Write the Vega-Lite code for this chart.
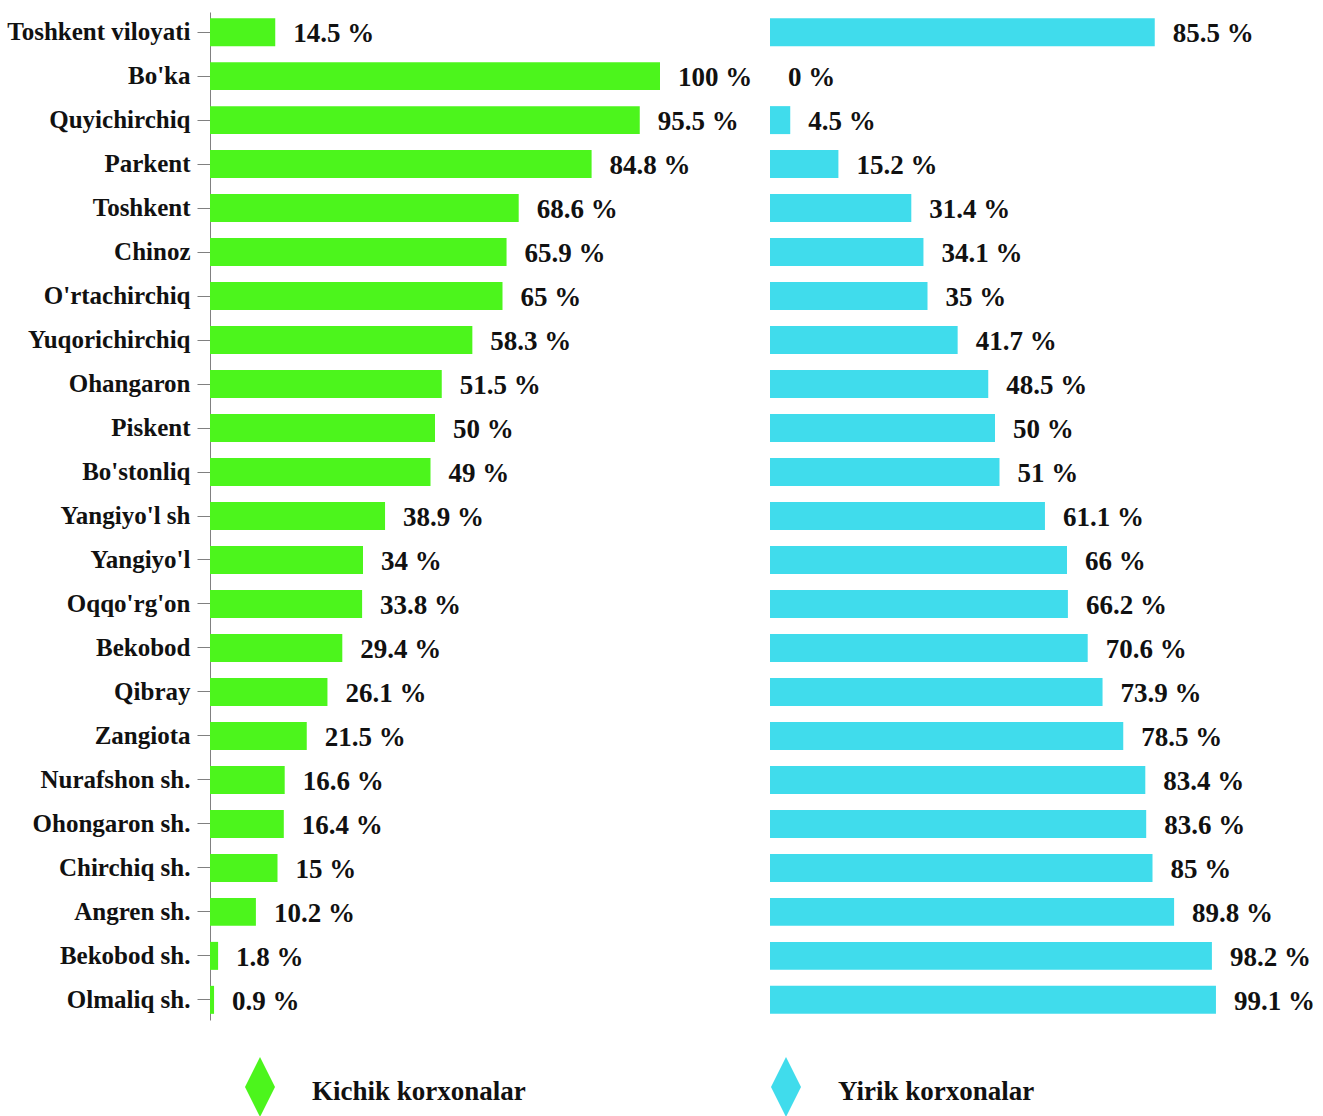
{
  "$schema": "https://vega.github.io/schema/vega-lite/v6.json",
  "padding": {"left": 6, "top": 12, "right": 0, "bottom": 0},
  "background": "white",
  "bounds": "flush",
  "spacing": 20,
  "config": {
    "view": {"stroke": null},
    "font": "Liberation Serif",
    "legend": {"labelFont": "Liberation Serif", "labelFontWeight": "bold"}
  },
  "data": {"values": [
    {"region": "Toshkent viloyati", "group": "Kichik korxonalar", "value": 14.5},
    {"region": "Bo'ka", "group": "Kichik korxonalar", "value": 100},
    {"region": "Quyichirchiq", "group": "Kichik korxonalar", "value": 95.5},
    {"region": "Parkent", "group": "Kichik korxonalar", "value": 84.8},
    {"region": "Toshkent", "group": "Kichik korxonalar", "value": 68.6},
    {"region": "Chinoz", "group": "Kichik korxonalar", "value": 65.9},
    {"region": "O'rtachirchiq", "group": "Kichik korxonalar", "value": 65},
    {"region": "Yuqorichirchiq", "group": "Kichik korxonalar", "value": 58.3},
    {"region": "Ohangaron", "group": "Kichik korxonalar", "value": 51.5},
    {"region": "Piskent", "group": "Kichik korxonalar", "value": 50},
    {"region": "Bo'stonliq", "group": "Kichik korxonalar", "value": 49},
    {"region": "Yangiyo'l sh", "group": "Kichik korxonalar", "value": 38.9},
    {"region": "Yangiyo'l", "group": "Kichik korxonalar", "value": 34},
    {"region": "Oqqo'rg'on", "group": "Kichik korxonalar", "value": 33.8},
    {"region": "Bekobod", "group": "Kichik korxonalar", "value": 29.4},
    {"region": "Qibray", "group": "Kichik korxonalar", "value": 26.1},
    {"region": "Zangiota", "group": "Kichik korxonalar", "value": 21.5},
    {"region": "Nurafshon sh.", "group": "Kichik korxonalar", "value": 16.6},
    {"region": "Ohongaron sh.", "group": "Kichik korxonalar", "value": 16.4},
    {"region": "Chirchiq sh.", "group": "Kichik korxonalar", "value": 15},
    {"region": "Angren sh.", "group": "Kichik korxonalar", "value": 10.2},
    {"region": "Bekobod sh.", "group": "Kichik korxonalar", "value": 1.8},
    {"region": "Olmaliq sh.", "group": "Kichik korxonalar", "value": 0.9},
    {"region": "Toshkent viloyati", "group": "Yirik korxonalar", "value": 85.5},
    {"region": "Bo'ka", "group": "Yirik korxonalar", "value": 0},
    {"region": "Quyichirchiq", "group": "Yirik korxonalar", "value": 4.5},
    {"region": "Parkent", "group": "Yirik korxonalar", "value": 15.2},
    {"region": "Toshkent", "group": "Yirik korxonalar", "value": 31.4},
    {"region": "Chinoz", "group": "Yirik korxonalar", "value": 34.1},
    {"region": "O'rtachirchiq", "group": "Yirik korxonalar", "value": 35},
    {"region": "Yuqorichirchiq", "group": "Yirik korxonalar", "value": 41.7},
    {"region": "Ohangaron", "group": "Yirik korxonalar", "value": 48.5},
    {"region": "Piskent", "group": "Yirik korxonalar", "value": 50},
    {"region": "Bo'stonliq", "group": "Yirik korxonalar", "value": 51},
    {"region": "Yangiyo'l sh", "group": "Yirik korxonalar", "value": 61.1},
    {"region": "Yangiyo'l", "group": "Yirik korxonalar", "value": 66},
    {"region": "Oqqo'rg'on", "group": "Yirik korxonalar", "value": 66.2},
    {"region": "Bekobod", "group": "Yirik korxonalar", "value": 70.6},
    {"region": "Qibray", "group": "Yirik korxonalar", "value": 73.9},
    {"region": "Zangiota", "group": "Yirik korxonalar", "value": 78.5},
    {"region": "Nurafshon sh.", "group": "Yirik korxonalar", "value": 83.4},
    {"region": "Ohongaron sh.", "group": "Yirik korxonalar", "value": 83.6},
    {"region": "Chirchiq sh.", "group": "Yirik korxonalar", "value": 85},
    {"region": "Angren sh.", "group": "Yirik korxonalar", "value": 89.8},
    {"region": "Bekobod sh.", "group": "Yirik korxonalar", "value": 98.2},
    {"region": "Olmaliq sh.", "group": "Yirik korxonalar", "value": 99.1}
  ]},
  "hconcat": [
    {
      "width": 540,
      "height": 1008,
      "transform": [{"filter": "datum.group === 'Kichik korxonalar'"}],
      "encoding": {
        "y": {
          "field": "region", "type": "nominal",
          "sort": ["Toshkent viloyati","Bo'ka","Quyichirchiq","Parkent","Toshkent","Chinoz","O'rtachirchiq","Yuqorichirchiq","Ohangaron","Piskent","Bo'stonliq","Yangiyo'l sh","Yangiyo'l","Oqqo'rg'on","Bekobod","Qibray","Zangiota","Nurafshon sh.","Ohongaron sh.","Chirchiq sh.","Angren sh.","Bekobod sh.","Olmaliq sh."],
          "scale": {"paddingInner": 0.364, "paddingOuter": 0.14},
          "axis": {
            "title": null,
            "domainColor": "#808080", "tickColor": "#808080",
            "tickSize": 13, "labelPadding": 7,
            "labelFont": "Liberation Serif", "labelFontWeight": "bold",
            "labelFontSize": 25, "labelColor": "#111111", "labelLimit": 400
          }
        },
        "x": {"field": "value", "type": "quantitative", "scale": {"domain": [0, 120]}, "axis": null}
      },
      "layer": [
        {
          "mark": {"type": "bar"},
          "encoding": {
            "color": {
              "field": "group", "type": "nominal",
              "scale": {"domain": ["Kichik korxonalar", "Yirik korxonalar"], "range": ["#4cf51c", "#40dcec"]},
              "legend": {
                "title": null, "orient": "none", "direction": "horizontal",
                "legendX": 20, "legendY": 1045,
                "symbolType": "M0,-1L0.5,0L0,1L-0.5,0Z",
                "symbolSize": 3600, "symbolStrokeWidth": 0,
                "labelFont": "Liberation Serif", "labelFontWeight": "bold",
                "labelFontSize": 27, "labelColor": "#111111",
                "labelOffset": 22, "columnPadding": 230, "labelLimit": 400,
                "encode": {
                  "symbols": {"update": {"fill": {"signal": "datum.value === 'Yirik korxonalar' ? '#62e6df' : '#4cf51c'"}, "opacity": {"value": 1}}},
                  "labels": {"update": {"font": {"value": "Liberation Serif"}, "fontWeight": {"value": "bold"}, "dy": {"value": 5}}}
                }
              }
            }
          }
        },
        {
          "mark": {"type": "text", "align": "left", "baseline": "middle", "dx": 18, "dy": 2,
                   "font": "Liberation Serif", "fontWeight": "bold", "fontSize": 27, "color": "#111111",
                   "text": {"expr": "datum.value + ' %'"}},
          "encoding": {}
        }
      ]
    },
    {
      "width": 540,
      "height": 1008,
      "transform": [{"filter": "datum.group === 'Yirik korxonalar'"}],
      "encoding": {
        "y": {
          "field": "region", "type": "nominal",
          "sort": ["Toshkent viloyati","Bo'ka","Quyichirchiq","Parkent","Toshkent","Chinoz","O'rtachirchiq","Yuqorichirchiq","Ohangaron","Piskent","Bo'stonliq","Yangiyo'l sh","Yangiyo'l","Oqqo'rg'on","Bekobod","Qibray","Zangiota","Nurafshon sh.","Ohongaron sh.","Chirchiq sh.","Angren sh.","Bekobod sh.","Olmaliq sh."],
          "scale": {"paddingInner": 0.364, "paddingOuter": 0.14},
          "axis": null
        },
        "x": {"field": "value", "type": "quantitative", "scale": {"domain": [0, 120]}, "axis": null}
      },
      "layer": [
        {
          "mark": {"type": "bar"},
          "encoding": {
            "color": {"field": "group", "type": "nominal"}
          }
        },
        {
          "mark": {"type": "text", "align": "left", "baseline": "middle", "dx": 18, "dy": 2,
                   "font": "Liberation Serif", "fontWeight": "bold", "fontSize": 27, "color": "#111111",
                   "text": {"expr": "datum.value + ' %'"}},
          "encoding": {}
        }
      ]
    }
  ]
}
